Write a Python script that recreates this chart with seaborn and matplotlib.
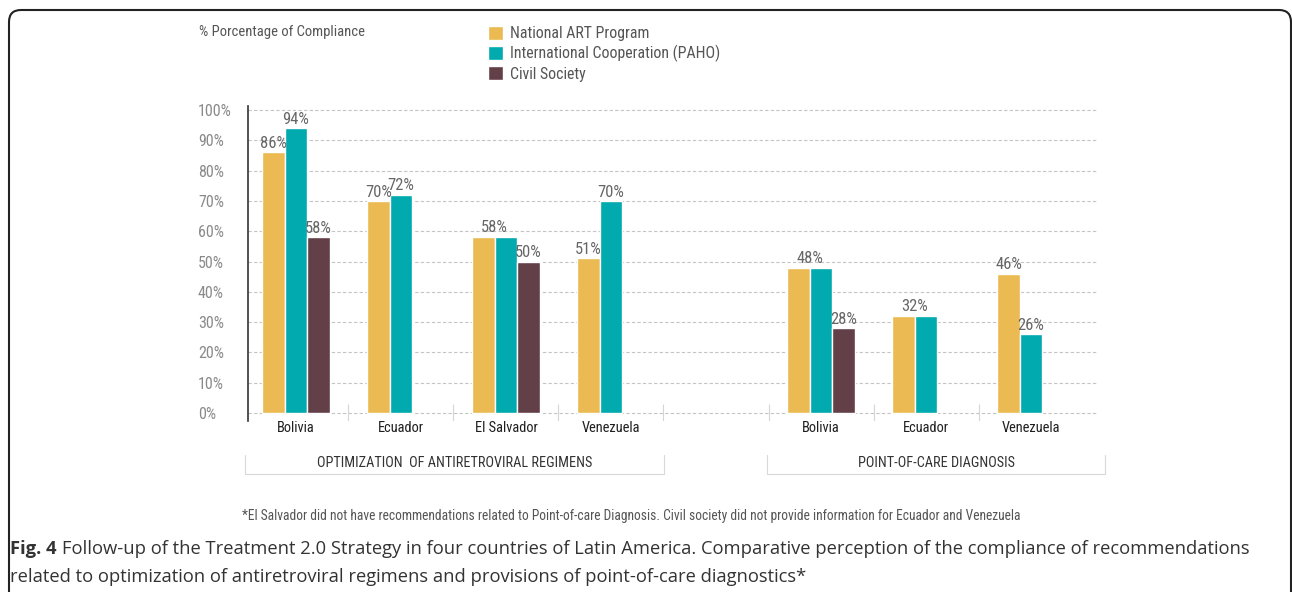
import numpy as np
import pandas as pd
import matplotlib
matplotlib.use("Agg")
import matplotlib.pyplot as plt
import matplotlib.transforms as mtransforms
from matplotlib.patches import FancyBboxPatch
from matplotlib import font_manager
import seaborn as sns

# ---------------- data ----------------
slot_keys = ["ART Bolivia", "ART Ecuador", "ART El Salvador", "ART Venezuela", "gap",
             "POC Bolivia", "POC Ecuador", "POC Venezuela"]
countries = ["Bolivia", "Ecuador", "El Salvador", "Venezuela", "",
             "Bolivia", "Ecuador", "Venezuela"]
series = ["National ART Program", "International Cooperation (PAHO)", "Civil Society"]
national = [86, 70, 58, 51, None, 48, 32, 46]
paho = [94, 72, 58, 70, None, 48, 32, 26]
civil = [58, None, 50, None, None, 28, None, None]
groups = ["OPTIMIZATION  OF ANTIRETROVIRAL REGIMENS", "POINT-OF-CARE DIAGNOSIS"]
yticks = [0, 10, 20, 30, 40, 50, 60, 70, 80, 90, 100]
ytick_labels = [f"{v}%" for v in yticks]
colors = ["#EBBA52", "#00AAAF", "#633F48"]

rows = []
for s, vals in zip(series, [national, paho, civil]):
    for k, v in zip(slot_keys, vals):
        if v is not None:
            rows.append({"slot": k, "series": s, "value": v})
df = pd.DataFrame(rows)

# ---------------- fonts ----------------
available = {f.name for f in font_manager.fontManager.ttflist}
narrow = None
for cand in ["Liberation Sans Narrow", "Roboto Condensed", "Open Sans Condensed",
             "Noto Sans Condensed", "Roboto"]:
    if cand in available:
        narrow = cand
        break
if narrow is None:
    narrow = "DejaVu Sans"
is_narrow = narrow in ("Liberation Sans Narrow", "Roboto Condensed",
                       "Open Sans Condensed", "Noto Sans Condensed")
sc = 1.08 if is_narrow else 0.93

# ---------------- figure ----------------
W, H = 1292, 592
sns.set_style("white")
plt.rcParams["font.family"] = [narrow, "DejaVu Sans"]

fig = plt.figure(figsize=(W / 100, H / 100), dpi=100)
ax = fig.add_axes([248 / W, 1 - 421 / H, 850 / W, 315 / H])

sns.barplot(data=df, x="slot", y="value", hue="series", order=slot_keys,
            hue_order=series, palette=colors, width=0.643, saturation=1,
            errorbar=None, ax=ax)

ax.set_xlim(-0.457, 7.638)
ax.set_ylim(-2.6, 101.3)
ax.set_xlabel("")
ax.set_ylabel("")

for sp in ["top", "right", "bottom"]:
    ax.spines[sp].set_visible(False)
ax.spines["left"].set_color("#333333")
ax.spines["left"].set_linewidth(1.2)

ax.set_yticks(yticks)
ax.set_yticklabels(ytick_labels)
ax.yaxis.grid(True, linestyle=(0, (3, 2)), color="#c4c4c4", linewidth=0.8)
ax.set_axisbelow(True)
ax.tick_params(axis="y", length=4.3, color="#c4c4c4", width=0.8, pad=31.7,
               labelsize=10.7 * sc, labelcolor="#8a8a8a")
for lbl in ax.get_yticklabels():
    lbl.set_horizontalalignment("left")

ax.set_xticks(range(len(slot_keys)))
ax.set_xticklabels(countries)
ax.tick_params(axis="x", length=0, pad=0, labelsize=9.6 * sc, labelcolor="#1f1f1f")

# value labels (equal neighbouring values share one label on their common edge)
lab_fs = 11 * sc
lab_col = "#666666"
nat_bars = list(ax.containers[0])
paho_bars = list(ax.containers[1])
shared = set()
for bn in nat_bars:
    for bp in paho_bars:
        if abs((bn.get_x() + bn.get_width()) - bp.get_x()) < 1e-6 and \
                np.isfinite(bn.get_height()) and bn.get_height() == bp.get_height():
            shared.add(id(bn))
            shared.add(id(bp))
            ax.text(bp.get_x(), bp.get_height() + 0.6, f"{bp.get_height():.0f}%",
                    ha="center", va="bottom", fontsize=lab_fs, color=lab_col)

for cont in ax.containers:
    labels = []
    for b in cont:
        h = b.get_height()
        if not np.isfinite(h) or id(b) in shared:
            labels.append("")
        else:
            labels.append(f"{h:.0f}%")
    ax.bar_label(cont, labels=labels, padding=1, fontsize=lab_fs, color=lab_col)

# separators between categories
ax.vlines([i + 0.5 for i in range(len(slot_keys) - 1)], -2.6, 3.0,
          color="#d5d5d5", linewidth=0.8)

# group brackets
trans = mtransforms.blended_transform_factory(ax.transData, ax.transAxes)
extents = [(-0.486, 3.505), (4.486, 7.705)]
yt, yb = (421 - 455) / 315, (421 - 474) / 315
for (x0, x1), g in zip(extents, groups):
    ax.plot([x0, x0, x1, x1], [yt, yb, yb, yt], transform=trans, clip_on=False,
            color="#d9d9d9", linewidth=0.8)
    ax.text((x0 + x1) / 2, (421 - 463) / 315, g, transform=trans, ha="center",
            va="center", fontsize=9.5 * sc, color="#333333")

# legend
handles, labels = ax.get_legend_handles_labels()
if ax.legend_ is not None:
    ax.legend_.remove()
fig.legend(handles, labels, loc="upper left", bbox_to_anchor=(488 / W, 1 - 26 / H),
           frameon=False, fontsize=10.6 * sc, handlelength=0.95, handleheight=0.95,
           handletextpad=0.45, labelspacing=0.24, borderpad=0, borderaxespad=0,
           labelcolor="#555555")

fig.text(199 / W, 1 - 32 / H, "% Porcentage of Compliance", ha="left", va="center",
         fontsize=9.75 * sc, color="#555555")

fig.text(631 / W, 1 - 516 / H,
         "*El Salvador did not have recommendations related to Point-of-care Diagnosis. "
         "Civil society did not provide information for Ecuador and Venezuela",
         ha="center", va="center", fontsize=9.0 * sc, color="#555555")

# caption
cap = ["Open Sans", "DejaVu Sans"]
cap_fs = 13.2
t1 = fig.text(10 / W, 1 - 549 / H, "Fig. 4", ha="left", va="center", fontsize=cap_fs,
              fontweight="bold", color="#333333", family=cap)
fig.canvas.draw()
bb = t1.get_window_extent(renderer=fig.canvas.get_renderer())
fig.text((bb.x1 + 5) / W, 1 - 549 / H,
         "Follow-up of the Treatment 2.0 Strategy in four countries of Latin America. "
         "Comparative perception of the compliance of recommendations",
         ha="left", va="center", fontsize=cap_fs, color="#333333", family=cap)
fig.text(10 / W, 1 - 577 / H,
         "related to optimization of antiretroviral regimens and provisions of point-of-care diagnostics*",
         ha="left", va="center", fontsize=cap_fs, color="#333333", family=cap)

# rounded frame
frame = FancyBboxPatch((9, -40), 1282, 622, boxstyle="round,pad=0,rounding_size=12",
                       transform=mtransforms.IdentityTransform(), facecolor="none",
                       edgecolor="#222222", linewidth=1.5)
fig.patches.append(frame)

fig.savefig("out.png", dpi=100)
